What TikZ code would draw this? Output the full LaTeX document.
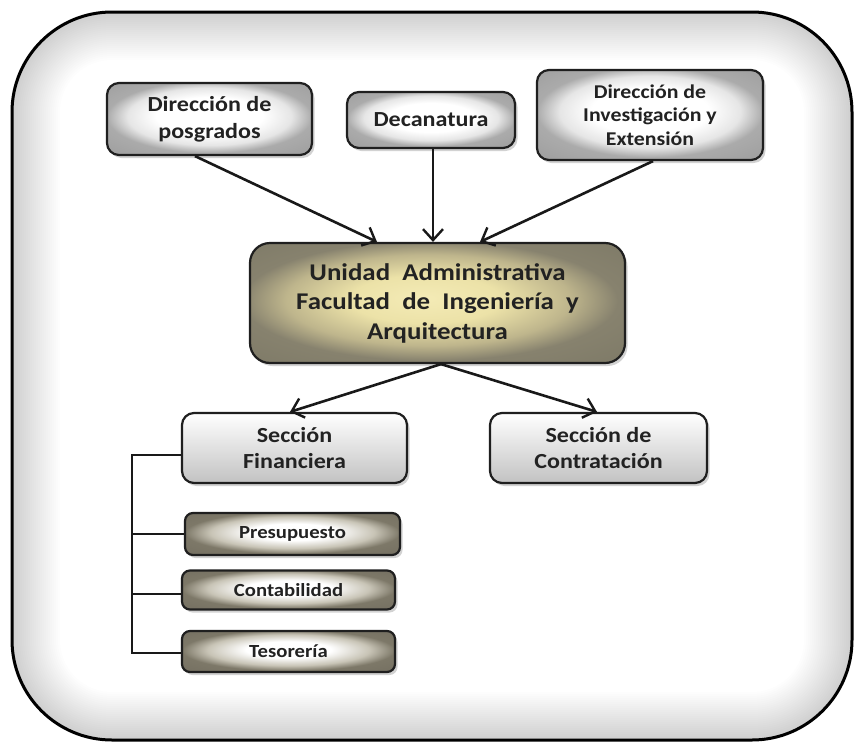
\documentclass[tikz,border=0pt]{standalone}
\usepackage{fontspec}
\setmainfont{Carlito}[FakeStretch=1.12]
\usetikzlibrary{shadows,arrows.meta,calc}
\definecolor{txt}{HTML}{222222}
\definecolor{secbot}{HTML}{C2C2C2}
\pgfdeclareradialshading{topsh}{\pgfpoint{0bp}{3bp}}{%
  color(0bp)=(white); color(13bp)=(white); color(20bp)=(black!10);
  color(25bp)=(black!33); color(50bp)=(black!45)}
\pgfdeclareradialshading{unish}{\pgfpoint{-2bp}{2bp}}{%
  color(0bp)=(rgb,255:red,244;green,235;blue,182); color(10bp)=(rgb,255:red,236;green,226;blue,168);
  color(19bp)=(rgb,255:red,190;green,181;blue,140);
  color(25bp)=(rgb,255:red,135;green,130;blue,110); color(50bp)=(rgb,255:red,115;green,112;blue,95)}
\pgfdeclareradialshading{smallsh}{\pgfpoint{0bp}{3bp}}{%
  color(0bp)=(white); color(10bp)=(white); color(19bp)=(rgb,255:red,200;green,196;blue,182);
  color(25bp)=(rgb,255:red,125;green,120;blue,104); color(50bp)=(rgb,255:red,105;green,100;blue,88)}
\begin{document}
\begin{tikzpicture}[x=1pt,y=-1pt,
  basebox/.style={draw=black!88, line width=2.2pt, align=center, inner sep=2pt,
    text=txt, font=\bfseries,
    drop shadow={shadow xshift=2.5pt, shadow yshift=-3pt, opacity=0.35}},
  topbox/.style={basebox, rounded corners=12pt, shading=topsh},
  unibox/.style={basebox, rounded corners=20pt, shading=unish},
  secbox/.style={basebox, rounded corners=12pt, top color=white, bottom color=secbot},
  smallbox/.style={basebox, rounded corners=8pt, shading=smallsh},
  arr/.style={line width=2.6pt, black!90, -{Straight Barb[length=11pt,width=20pt,line width=2.4pt]}},
  bline/.style={line width=2.2pt, black!90}
]
\useasboundingbox (0,0) rectangle (854,742);
\fill[white] (0,0) rectangle (854,742);
% outer frame with inner shadow
\begin{scope}
  \clip[rounded corners=100pt] (12,12) rectangle (852,740);
  \foreach \i in {1,...,24} {
    \draw[line width=4*\i pt, black, opacity=0.009, rounded corners=100pt] (12,12) rectangle (852,740);
  }
\end{scope}
\draw[line width=3pt, rounded corners=100pt] (12,12) rectangle (852,740);

% top row
\node[topbox, minimum width=205pt, minimum height=72pt,
  font=\bfseries\fontsize{21.5}{27}\selectfont] (posg) at (209.5,119) {Dirección de\\posgrados};
\node[topbox, minimum width=168pt, minimum height=56pt,
  font=\bfseries\fontsize{21.5}{26}\selectfont] (deca) at (431,120) {Decanatura};
\node[topbox, minimum width=226pt, minimum height=90pt,
  font=\bfseries\fontsize{19.5}{23.5}\selectfont] (inv) at (650,115) {Dirección de\\Investigación y\\Extensión};

% central
\node[unibox, minimum width=375pt, minimum height=120pt,
  font=\bfseries\fontsize{24}{29.5}\selectfont] (uni) at (437.5,303)
  {Unidad \ Administrativa\\Facultad \ de \ Ingeniería \ y\\Arquitectura};

% sections
\node[secbox, minimum width=225pt, minimum height=70pt,
  font=\bfseries\fontsize{21.5}{25.5}\selectfont] (fin) at (294.5,448) {Sección\\Financiera};
\node[secbox, minimum width=217pt, minimum height=70pt,
  font=\bfseries\fontsize{21.5}{25.5}\selectfont] (con) at (598.5,448) {Sección de\\Contratación};

% small boxes
\node[smallbox, minimum width=215pt, minimum height=42pt,
  font=\bfseries\fontsize{18.5}{22}\selectfont] (pre) at (292.5,534) {Presupuesto};
\node[smallbox, minimum width=213pt, minimum height=39pt,
  font=\bfseries\fontsize{18.5}{22}\selectfont] (cont) at (288.5,590) {Contabilidad};
\node[smallbox, minimum width=213pt, minimum height=41pt,
  font=\bfseries\fontsize{18.5}{22}\selectfont] (tes) at (288.5,651.5) {Tesorería};

% arrows
\draw[arr] ([xshift=-14.5pt]posg.south) -- ([xshift=-60.5pt]uni.north);
\draw[arr] ([xshift=2pt]deca.south) -- ([xshift=2pt]deca.south |- uni.north);
\draw[arr] ([xshift=3pt]inv.south) -- ([xshift=42.5pt]uni.north);
\draw[arr] ([xshift=3.5pt]uni.south) -- ([xshift=-4.5pt]fin.north);
\draw[arr] ([xshift=3.5pt]uni.south) -- ([xshift=-1.5pt]con.north);

% bracket
\coordinate (bk) at (132,653);
\draw[bline] ([yshift=-7pt]fin.west) -| (bk) -- (bk -| tes.west);
\draw[bline] (pre.west) -- (pre.west -| bk);
\draw[bline] ([yshift=-4pt]cont.west) -- ([yshift=-4pt]cont.west -| bk);
\end{tikzpicture}
\end{document}
